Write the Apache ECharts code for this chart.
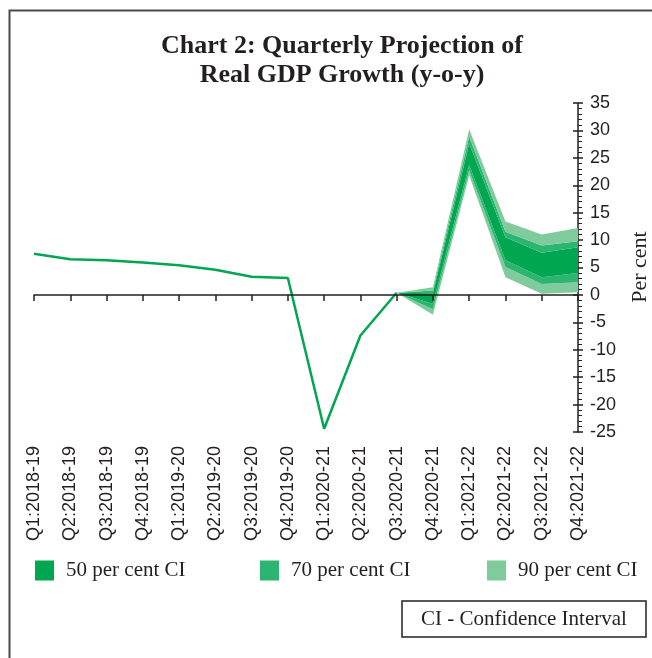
<!DOCTYPE html>
<html>
<head>
<meta charset="utf-8">
<script src="https://cdn.jsdelivr.net/npm/echarts@6/dist/echarts.min.js"></script>
<style>html,body{margin:0;padding:0;background:#fff;}#c{width:652px;height:658px;}</style>
</head>
<body>
<div id="c"></div>
<script>
var categories = ['Q1:2018-19','Q2:2018-19','Q3:2018-19','Q4:2018-19','Q1:2019-20','Q2:2019-20','Q3:2019-20','Q4:2019-20','Q1:2020-21','Q2:2020-21','Q3:2020-21','Q4:2020-21','Q1:2021-22','Q2:2021-22','Q3:2021-22','Q4:2021-22'];
var actual = [7.5, 6.5, 6.3, 5.9, 5.4, 4.6, 3.3, 3.1, -24.4, -7.4, 0.4, null, null, null, null, null];
var lower90 = [null,null,null,null,null,null,null,null,null,null, 0.4, -3.6, 21.8, 3.2, 0.2, 0.5];
var lower70 = [null,null,null,null,null,null,null,null,null,null, 0.4, -2.6, 22.7, 5.1, 2.0, 2.3];
var lower50 = [null,null,null,null,null,null,null,null,null,null, 0.4, -1.6, 23.7, 6.3, 3.2, 4.0];
var upper50 = [null,null,null,null,null,null,null,null,null,null, 0.4, 0.3, 27.6, 10.5, 7.7, 8.7];
var upper70 = [null,null,null,null,null,null,null,null,null,null, 0.4, 0.8, 28.9, 11.5, 9.0, 9.8];
var upper90 = [null,null,null,null,null,null,null,null,null,null, 0.4, 1.4, 30.2, 13.4, 11.0, 12.2];
var yTicks = {min: -25, max: 35, interval: 5};
var legendNames = ['50 per cent CI', '70 per cent CI', '90 per cent CI'];

var C50 = '#00a650', C70 = '#2bb570', C90 = '#80cb9b', LINE = '#00a651', INK = '#231f20';

function diff(a, b) { return a.map(function (v, i) { return (v == null || b[i] == null) ? null : +(v - b[i]).toFixed(3); }); }

function band(name, data, color) {
  return {
    name: name, type: 'line', stack: 'fan', stackStrategy: 'all', data: data,
    symbol: 'none', silent: true, z: 2,
    itemStyle: {color: color},
    lineStyle: {width: 0, opacity: 0},
    areaStyle: {color: color, opacity: 1}
  };
}

var chart = echarts.init(document.getElementById('c'), null, {renderer: 'canvas'});
var option = {
  animation: false,
  backgroundColor: '#fff',
  title: {
    text: 'Chart 2: Quarterly Projection of\nReal GDP Growth (y-o-y)',
    left: 337, top: 27, textAlign: 'center',
    textStyle: {fontFamily: 'Liberation Serif', fontWeight: 'bold', fontSize: 26, lineHeight: 29, color: INK}
  },
  grid: {left: 34, right: 74, top: 103, bottom: 226, containLabel: false},
  xAxis: [
    {
      type: 'category', data: categories, boundaryGap: false, position: 'bottom',
      axisLine: {show: false, onZero: false}, axisTick: {show: false},
      axisLabel: {rotate: 90, margin: 14, interval: 0, fontFamily: 'Liberation Sans', fontSize: 18, color: INK}
    },
    {
      type: 'category', data: categories, boundaryGap: false, position: 'top', z: 10,
      axisLine: {show: true, onZero: true, lineStyle: {color: INK, width: 1.5}},
      axisTick: {show: true, inside: true, interval: 0, length: 6, lineStyle: {color: INK, width: 1.5}},
      axisLabel: {show: false}
    }
  ],
  yAxis: [
    {
      type: 'value', position: 'right', min: yTicks.min, max: yTicks.max, interval: yTicks.interval,
      axisLine: {show: true, onZero: false, lineStyle: {color: INK, width: 1.5}},
      axisTick: {show: true, length: 5, lineStyle: {color: INK, width: 1.5}},
      minorTick: {show: true, splitNumber: 5, length: 4, lineStyle: {color: INK, width: 1}},
      splitLine: {show: false},
      axisLabel: {margin: 12, fontFamily: 'Liberation Sans', fontSize: 18, color: INK}
    },
    {
      type: 'value', position: 'right', min: yTicks.min, max: yTicks.max, interval: yTicks.interval,
      axisLine: {show: false, onZero: false},
      axisTick: {show: true, inside: true, length: 5, lineStyle: {color: INK, width: 1.5}},
      splitLine: {show: false},
      axisLabel: {show: false}
    }
  ],
  legend: [
    {left: 35, top: 560, padding: 0, icon: 'rect', itemWidth: 19, itemHeight: 20, selectedMode: false,
     data: [{name: legendNames[0], itemStyle: {color: C50}}],
     textStyle: {fontFamily: 'Liberation Serif', fontSize: 21, color: INK, padding: [0, 0, 0, 7]}},
    {left: 260, top: 560, padding: 0, icon: 'rect', itemWidth: 19, itemHeight: 20, selectedMode: false,
     data: [{name: legendNames[1], itemStyle: {color: C70}}],
     textStyle: {fontFamily: 'Liberation Serif', fontSize: 21, color: INK, padding: [0, 0, 0, 7]}},
    {left: 487, top: 560, padding: 0, icon: 'rect', itemWidth: 19, itemHeight: 20, selectedMode: false,
     data: [{name: legendNames[2], itemStyle: {color: C90}}],
     textStyle: {fontFamily: 'Liberation Serif', fontSize: 21, color: INK, padding: [0, 0, 0, 7]}}
  ],
  series: [
    {name: 'base', type: 'line', stack: 'fan', stackStrategy: 'all', data: lower90, symbol: 'none', silent: true, z: 2,
     lineStyle: {width: 0, opacity: 0}},
    band(legendNames[2], diff(lower70, lower90), C90),
    band(legendNames[1], diff(lower50, lower70), C70),
    band(legendNames[0], diff(upper50, lower50), C50),
    band(legendNames[1], diff(upper70, upper50), C70),
    band(legendNames[2], diff(upper90, upper70), C90),
    {name: 'Actual', type: 'line', data: actual, symbol: 'none', z: 3, connectNulls: false,
     lineStyle: {color: LINE, width: 2.5}, itemStyle: {color: LINE}}
  ],
  graphic: [
    {type: 'polyline', silent: true, shape: {points: [[9.5, 658], [9.5, 10.5], [652, 10.5]]},
     style: {stroke: '#4a4a4a', lineWidth: 2, fill: null}},
    {type: 'text', x: 640, y: 267, rotation: Math.PI / 2, silent: true,
     style: {text: 'Per cent', fontFamily: 'Liberation Serif', fontSize: 22, fill: INK, textAlign: 'center', textVerticalAlign: 'middle'}},
    {type: 'rect', silent: true, shape: {x: 402, y: 601, width: 244, height: 36},
     style: {fill: '#fff', stroke: INK, lineWidth: 1.5}},
    {type: 'text', x: 524, y: 619.5, silent: true,
     style: {text: 'CI - Confidence Interval', fontFamily: 'Liberation Serif', fontSize: 21, fill: INK, textAlign: 'center', textVerticalAlign: 'middle'}}
  ]
};
chart.setOption(option);
</script>
</body>
</html>
